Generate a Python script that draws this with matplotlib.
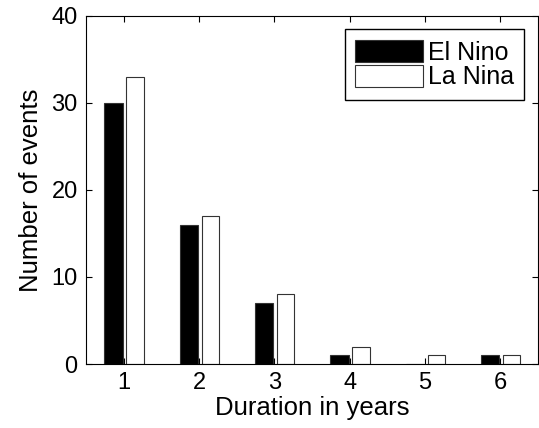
import matplotlib
matplotlib.use("Agg")
import matplotlib.pyplot as plt
import numpy as np

plt.rcParams["font.family"] = ["Liberation Sans", "DejaVu Sans"]

durations = [1, 2, 3, 4, 5, 6]
el_nino = [30, 16, 7, 1, 0, 1]
la_nina = [33, 17, 8, 2, 1, 1]

fig = plt.figure(figsize=(5.39, 4.28), dpi=100)
ax = fig.add_axes([0.1596, 0.1495, 0.8384, 0.8138])

x = np.array(durations)
ax.bar(x - 0.135, el_nino, width=0.24, color="black", edgecolor="#333333", linewidth=0.8, label="El Nino")
ax.bar(x + 0.15, la_nina, width=0.23, color="white", edgecolor="#333333", linewidth=0.8, label="La Nina")

ax.set_xlim(0.5, 6.5)
ax.set_ylim(0, 40)
ax.set_xticks(durations)
ax.set_yticks([0, 10, 20, 30, 40])
ax.tick_params(direction="in", top=True, right=True, labelsize=17, length=4, pad=6)
for s in ax.spines.values():
    s.set_linewidth(0.8)

ax.set_xlabel("Duration in years", fontsize=18.5, labelpad=1)
ax.set_ylabel("Number of events", fontsize=18.5, labelpad=6)

leg = ax.legend(loc="upper right", fontsize=18, fancybox=False, framealpha=1,
                edgecolor="black", handlelength=2.7, handleheight=1.0,
                borderpad=0.42, labelspacing=0.0, handletextpad=0.2,
                borderaxespad=0.55)
leg.get_frame().set_linewidth(1.0)

fig.savefig("out.png", dpi=100)
